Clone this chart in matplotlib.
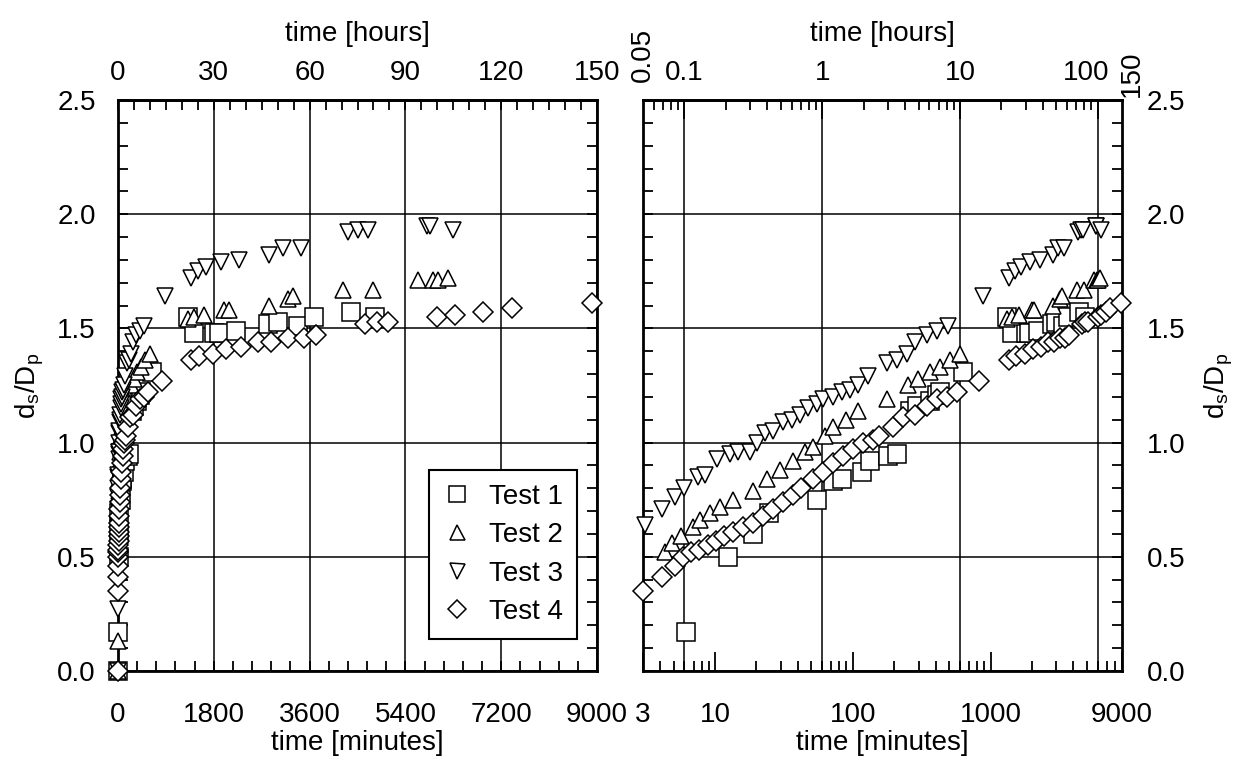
import numpy as np
import matplotlib
matplotlib.use("Agg")
import matplotlib.pyplot as plt
import matplotlib.transforms as mtransforms
from matplotlib import font_manager
from matplotlib.ticker import FixedLocator, NullFormatter, FixedFormatter, MultipleLocator

# ---------------- data (time in minutes, y = d_s/D_p) ----------------
t1 = [0, 6.2, 12.4, 18.8, 24.6, 55, 72, 83, 116, 133, 180, 209, 260, 292, 363, 408, 428, 630,
      1313, 1425, 1800, 1894, 2213, 2813, 3000, 3375, 3675, 4369, 4838]
y1 = [0.0, 0.17, 0.50, 0.60, 0.69, 0.75, 0.83, 0.84, 0.87, 0.92, 0.94, 0.95, 1.14, 1.16, 1.18, 1.21, 1.22, 1.31,
      1.55, 1.48, 1.48, 1.48, 1.49, 1.52, 1.53, 1.51, 1.55, 1.57, 1.55]

t2 = [0, 1, 4.3, 4.9, 5.7, 6.9, 7.8, 9.2, 10.9, 13.5, 18.9, 23.8, 29.6, 36.7, 45, 51, 63, 72, 90, 109,
      177, 251, 297, 363, 428, 507, 599,
      1313, 1425, 1613, 1988, 2081, 2831, 3188, 3281, 4219, 4800, 5644, 5925, 6019, 6206]
y2 = [0.0, 0.13, 0.52, 0.56, 0.59, 0.63, 0.66, 0.69, 0.72, 0.75, 0.79, 0.84, 0.88, 0.92, 0.96, 0.98, 1.03, 1.07, 1.10, 1.14,
      1.19, 1.25, 1.28, 1.31, 1.33, 1.36, 1.39,
      1.54, 1.55, 1.56, 1.58, 1.58, 1.60, 1.63, 1.64, 1.67, 1.67, 1.71, 1.71, 1.71, 1.72]

t3 = [0, 1, 3.1, 4.1, 5.1, 6.0, 7.5, 8.4, 10.3, 12.8, 14.6, 17.9, 20.1, 23.0, 26.3, 31.1, 36.1, 41.2, 47.2,
      54.7, 60.5, 71.6, 83.2, 95.1, 109, 129, 177, 209, 247, 283, 345, 408, 490, 879,
      1369, 1500, 1650, 1931, 2269, 2831, 3094, 3431, 4313, 4500, 4706, 5813, 5869, 6300]
y3 = [0.0, 0.27, 0.64, 0.71, 0.76, 0.80, 0.85, 0.86, 0.93, 0.95, 0.96, 0.96, 1.00, 1.04, 1.05, 1.09, 1.10, 1.12, 1.15,
      1.17, 1.19, 1.20, 1.22, 1.23, 1.25, 1.29, 1.35, 1.36, 1.39, 1.44, 1.47, 1.49, 1.51, 1.64,
      1.72, 1.75, 1.77, 1.79, 1.80, 1.82, 1.85, 1.85, 1.92, 1.93, 1.93, 1.95, 1.95, 1.93]

t4 = [0, 3.0, 4.1, 5.1, 5.9, 6.7, 7.6, 8.9, 10.1, 11.6, 13.5, 15.9, 18.8, 22.3, 26.3, 31.1, 36.7, 42, 51,
      61, 72, 85, 100, 119, 140, 156, 195, 231, 283, 345, 408, 483, 570, 820,
      1369, 1519, 1781, 2025, 2306, 2625, 2869, 3188, 3488, 3713, 4650, 4875, 5081, 6000, 6338, 6863, 7406, 8906]
y4 = [0.0, 0.35, 0.41, 0.46, 0.50, 0.52, 0.53, 0.55, 0.57, 0.59, 0.61, 0.63, 0.65, 0.68, 0.71, 0.74, 0.77, 0.80, 0.84,
      0.87, 0.91, 0.94, 0.97, 1.00, 1.01, 1.03, 1.07, 1.11, 1.12, 1.16, 1.19, 1.20, 1.22, 1.27,
      1.36, 1.38, 1.39, 1.41, 1.42, 1.44, 1.44, 1.46, 1.46, 1.47, 1.52, 1.53, 1.53, 1.55, 1.56, 1.57, 1.59, 1.61]

series_labels = ["Test 1", "Test 2", "Test 3", "Test 4"]

# tick definitions
lin_xticks = [0, 1800, 3600, 5400, 7200, 9000]
lin_top_ticks = [0, 30, 60, 90, 120, 150]
log_xticks = [3, 10, 100, 1000, 9000]
log_top_ticks = [0.1, 1, 10, 100]
log_top_edge_labels = [0.05, 150]
yticks = [0.0, 0.5, 1.0, 1.5, 2.0, 2.5]

# ---------------- fonts ----------------
names = {f.name for f in font_manager.fontManager.ttflist}
if "Liberation Sans Narrow" in names:
    fam = "Liberation Sans Narrow"
elif "Liberation Sans" in names:
    fam = "Liberation Sans"
else:
    fam = "DejaVu Sans"
plt.rcParams['font.family'] = [fam, 'DejaVu Sans']
plt.rcParams['mathtext.fontset'] = 'custom'
plt.rcParams['mathtext.rm'] = fam
plt.rcParams['mathtext.it'] = fam
plt.rcParams['mathtext.default'] = 'regular'
FS = 20

fig = plt.figure(figsize=(12.4, 7.62), dpi=100)
axL = fig.add_axes([118/1240, 91/762, 479/1240, 571/762])
axR = fig.add_axes([643/1240, 91/762, 479/1240, 571/762])

markers = ['s', '^', 'v', 'D']
msizes = [12.5, 12, 12, 10.5]
data = [(t1, y1), (t2, y2), (t3, y3), (t4, y4)]

for ax, tmin in ((axL, 0), (axR, 3)):
    for (t, y), m, ms, lab in zip(data, markers, msizes, series_labels):
        t = np.asarray(t, float)
        y = np.asarray(y, float)
        keep = t >= tmin
        ax.plot(t[keep], y[keep], linestyle='none', marker=m, markersize=ms, markerfacecolor='white',
                markeredgecolor='black', markeredgewidth=1.1, label=lab, zorder=3, clip_on=False)
    ax.set_ylim(0, 2.5)
    for s in ax.spines.values():
        s.set_linewidth(2.0)
    ax.yaxis.set_major_locator(FixedLocator(yticks))
    ax.yaxis.set_minor_locator(MultipleLocator(0.1))
    ax.grid(axis='y', which='major', color='black', linewidth=1.1)
    ax.tick_params(axis='both', which='both', direction='in', labelsize=FS, width=1.3, top=False)
    ax.tick_params(axis='y', which='both', left=True, right=True, length=7)

# ---------- left (linear) ----------
axL.set_xlim(0, 9000)
axL.xaxis.set_major_locator(FixedLocator(lin_xticks))
axL.xaxis.set_minor_locator(MultipleLocator(360))
axL.tick_params(axis='x', which='both', length=7, pad=22)
axL.tick_params(axis='y', labelleft=True, labelright=False, pad=16)
axL.grid(axis='x', which='major', color='black', linewidth=1.1)
axL.set_xlabel('time [minutes]', fontsize=FS, labelpad=2)
axL.set_ylabel(r'd$_s$/D$_p$', fontsize=FS, labelpad=8)

secL = axL.secondary_xaxis('top', functions=(lambda m: m / 60.0, lambda h: h * 60.0))
secL.xaxis.set_major_locator(FixedLocator(lin_top_ticks))
secL.xaxis.set_minor_locator(MultipleLocator(5))
secL.tick_params(axis='x', which='both', direction='in', length=7, width=1.3, labelsize=FS, pad=10)
secL.spines['top'].set_linewidth(2.0)
secL.set_xlabel('time [hours]', fontsize=FS, labelpad=14)

leg = axL.legend(loc='lower right', bbox_to_anchor=(0.958, 0.056), borderaxespad=0, fontsize=FS,
                 frameon=True, fancybox=False, edgecolor='black', framealpha=1, markerscale=0.9,
                 handletextpad=0.65, borderpad=0.5, labelspacing=0.45, handlelength=1.0)
leg.get_frame().set_linewidth(1.5)

# ---------- right (log) ----------
axR.set_xscale('log')
axR.set_xlim(3, 9000)
axR.xaxis.set_major_locator(FixedLocator(log_xticks))
axR.xaxis.set_major_formatter(FixedFormatter([str(v) for v in log_xticks]))
minor_bottom = [k * 10 ** e for e in range(0, 4) for k in range(1, 10)
                if 3 < k * 10 ** e < 9000 and k * 10 ** e not in log_xticks]
axR.xaxis.set_minor_locator(FixedLocator(minor_bottom))
axR.xaxis.set_minor_formatter(NullFormatter())
axR.tick_params(axis='x', which='major', length=14, pad=22)
axR.tick_params(axis='x', which='minor', length=7)
axR.tick_params(axis='y', labelleft=False, labelright=True, pad=18)
axR.yaxis.set_label_position('right')
axR.set_ylabel(r'd$_s$/D$_p$', fontsize=FS, labelpad=12)
axR.set_xlabel('time [minutes]', fontsize=FS, labelpad=2)
for h in log_top_ticks:
    axR.axvline(h * 60, color='black', linewidth=1.1, zorder=1)

secR = axR.secondary_xaxis('top', functions=(lambda m: m / 60.0, lambda h: h * 60.0))
secR.set_xscale('log')
secR.xaxis.set_major_locator(FixedLocator(log_top_ticks))
secR.xaxis.set_major_formatter(FixedFormatter(['0.1', '1', '10', '100']))
minor_top = [k * 10.0 ** e for e in range(-2, 3) for k in range(2, 10) if 0.05 < k * 10.0 ** e < 150]
secR.xaxis.set_minor_locator(FixedLocator(minor_top))
secR.xaxis.set_minor_formatter(NullFormatter())
secR.tick_params(axis='x', which='major', direction='in', length=14, width=1.3, labelsize=FS, pad=10)
secR.tick_params(axis='x', which='minor', direction='in', length=7, width=1.3)
secR.spines['top'].set_linewidth(2.0)
secR.set_xlabel('time [hours]', fontsize=FS, labelpad=14)

# shift the "100" label slightly left (as in the reference) to make room for "150"
fig.canvas.draw()
lbls = secR.xaxis.get_majorticklabels()
shift = mtransforms.ScaledTranslation(-12 / 100, 0, fig.dpi_scale_trans)
for lb in lbls:
    if lb.get_text() == '100':
        lb.set_transform(lb.get_transform() + shift)

# rotated edge labels 0.05 and 150 hours
offs = [mtransforms.ScaledTranslation(0, 18 / 100, fig.dpi_scale_trans),
        mtransforms.ScaledTranslation(10 / 100, 3 / 100, fig.dpi_scale_trans)]
for h, off in zip(log_top_edge_labels, offs):
    axR.text(h * 60, 1.0, str(h), transform=axR.get_xaxis_transform() + off, rotation=90,
             ha='center', va='bottom', fontsize=FS)

fig.savefig('out.png', dpi=100)
